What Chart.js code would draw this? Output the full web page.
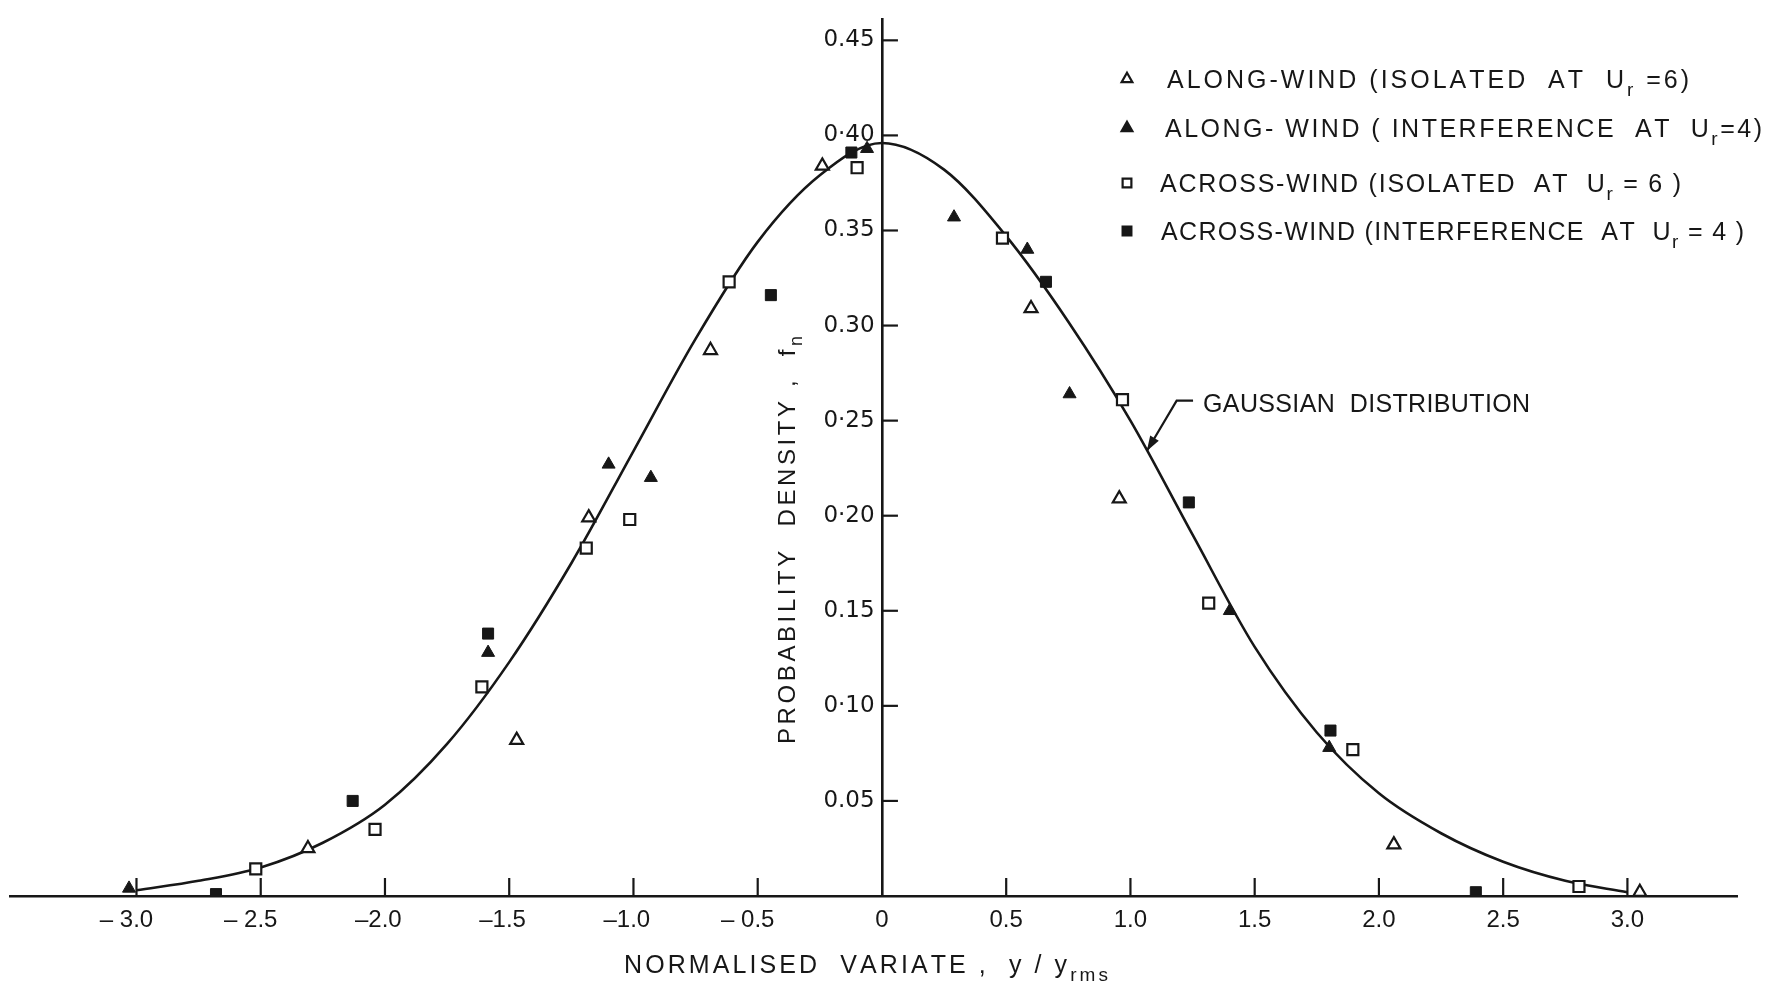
<!DOCTYPE html>
<html>
<head>
<meta charset="utf-8">
<script src="https://cdn.jsdelivr.net/npm/chart.js@4.4.1/dist/chart.umd.min.js"></script>
<style>
html,body{margin:0;padding:0;background:#fff;}
#wrap{width:1785px;height:986px;position:relative;}
canvas{display:block;}
</style>
</head>
<body>
<div id="wrap"><canvas id="c" width="1785" height="986"></canvas></div>
<script>
// ---------------- DATA ----------------
const xTickValues = [-3, -2.5, -2, -1.5, -1, -0.5, 0, 0.5, 1, 1.5, 2, 2.5, 3];
const xTickLabels = ['– 3.0', '– 2.5', '–2.0', '–1.5', '–1.0', '– 0.5', '0', '0.5', '1.0', '1.5', '2.0', '2.5', '3.0'];
const yTickValues = [0.05, 0.10, 0.15, 0.20, 0.25, 0.30, 0.35, 0.40, 0.45];
const yTickLabels = ['0.05', '0·10', '0.15', '0·20', '0·25', '0.30', '0.35', '0·40', '0.45'];

const seriesNames = [
  'ALONG-WIND (ISOLATED AT Ur =6)',
  'ALONG-WIND (INTERFERENCE AT Ur =4)',
  'ACROSS-WIND (ISOLATED AT Ur = 6)',
  'ACROSS-WIND (INTERFERENCE AT Ur = 4)',
  'GAUSSIAN DISTRIBUTION'
];

// open triangles
const alongIsoX = [-2.31, -1.47, -1.18, -0.69, -0.24, 0.60, 0.955, 2.06, 3.05];
const alongIsoY = [0.025, 0.082, 0.199, 0.287, 0.384, 0.309, 0.209, 0.027, 0.002];
// filled triangles
const alongIntX = [-3.03, -1.585, -1.10, -0.93, -0.06, 0.29, 0.585, 0.755, 1.40, 1.80];
const alongIntY = [0.004, 0.128, 0.227, 0.220, 0.393, 0.357, 0.340, 0.264, 0.150, 0.078];
// open squares
const acrossIsoX = [-2.52, -2.04, -1.61, -1.19, -1.015, -0.615, -0.10, 0.485, 0.968, 1.315, 1.895, 2.805];
const acrossIsoY = [0.0143, 0.035, 0.110, 0.183, 0.198, 0.323, 0.383, 0.346, 0.261, 0.154, 0.077, 0.005];
// filled squares
const acrossIntX = [-2.68, -2.13, -1.585, -0.447, -0.123, 0.66, 1.235, 1.805, 2.39];
const acrossIntY = [0.001, 0.050, 0.138, 0.316, 0.391, 0.323, 0.207, 0.087, 0.002];
// Gaussian curve as drawn
const gaussX = [-3.0, -2.75, -2.5, -2.25, -2.0, -1.75, -1.5, -1.25, -1.0, -0.75, -0.5, -0.25, 0, 0.25, 0.5, 0.75, 1.0, 1.25, 1.5, 1.75, 2.0, 2.25, 2.5, 2.75, 3.0];
const gaussY = [0.003, 0.008, 0.015, 0.028, 0.048, 0.080, 0.123, 0.175, 0.234, 0.293, 0.344, 0.379, 0.396, 0.382, 0.347, 0.302, 0.250, 0.190, 0.131, 0.086, 0.054, 0.033, 0.018, 0.008, 0.002];

// annotation anchor (data space) for the "GAUSSIAN DISTRIBUTION" leader
const noteTip = {x: 1.066, y: 0.234};
const noteElbow = {x: 1.186, y: 0.2605};
const noteEnd = {x: 1.252, y: 0.2605};

// ---------------- STYLE ----------------
const FONT = "'Liberation Sans', Arial, sans-serif";
const YFONT = "'DejaVu Sans', sans-serif";
const INK = '#171717';
const pts = (xs, ys) => xs.map((x, i) => ({x: x, y: ys[i]}));

function drawSpaced(ctx, parts, x, yMid, target, size, align) {
  const fMain = size + 'px ' + FONT;
  const fSub = Math.round(size * 0.74) + 'px ' + FONT;
  const chars = [];
  parts.forEach(p => { for (const ch of p[0]) chars.push({ch: ch, sub: p[1]}); });
  let natural = 0;
  chars.forEach(c => { ctx.font = c.sub ? fSub : fMain; c.w = ctx.measureText(c.ch).width; natural += c.w; });
  const ls = chars.length > 1 ? (target - natural) / (chars.length - 1) : 0;
  let cx = align === 'center' ? x - target / 2 : x;
  const base = yMid + size * 0.36;
  ctx.textAlign = 'left';
  ctx.textBaseline = 'alphabetic';
  chars.forEach(c => {
    ctx.font = c.sub ? fSub : fMain;
    ctx.fillText(c.ch, cx, c.sub ? base + size * 0.3 : base);
    cx += c.w + ls;
  });
}

function marker(ctx, style, filled, r, x, y) {
  ctx.save();
  ctx.fillStyle = filled ? INK : '#fff';
  ctx.strokeStyle = INK;
  ctx.lineWidth = 2.2;
  if (Chart.helpers && Chart.helpers.drawPoint) {
    Chart.helpers.drawPoint(ctx, {pointStyle: style, radius: r, rotation: 0, borderWidth: 2.2}, x, y);
  }
  ctx.restore();
}

const paperPlugin = {
  id: 'paper',
  beforeDraw(chart) {
    const ctx = chart.ctx;
    ctx.save(); ctx.fillStyle = '#fff'; ctx.fillRect(0, 0, chart.width, chart.height); ctx.restore();
  }
};

const decorPlugin = {
  id: 'decor',
  beforeDatasetsDraw(chart) {
    const ctx = chart.ctx, xs = chart.scales.x, ys = chart.scales.y;
    const x0 = xs.getPixelForValue(0), y0 = ys.getPixelForValue(0);
    ctx.save();
    ctx.strokeStyle = INK; ctx.lineWidth = 2.2;
    xs.ticks.forEach(t => {
      if (t.value === 0) return;
      const px = xs.getPixelForValue(t.value);
      ctx.beginPath(); ctx.moveTo(px, y0); ctx.lineTo(px, y0 - 18); ctx.stroke();
    });
    ys.ticks.forEach(t => {
      const py = ys.getPixelForValue(t.value);
      ctx.beginPath(); ctx.moveTo(x0, py); ctx.lineTo(x0 + 16, py); ctx.stroke();
    });
    ctx.restore();
  },
  afterDraw(chart) {
    const ctx = chart.ctx, xs = chart.scales.x, ys = chart.scales.y;
    ctx.save();
    ctx.fillStyle = INK; ctx.strokeStyle = INK;

    // axis titles
    drawSpaced(ctx, [['NORMALISED  VARIATE ,  y / y', false], ['rms', true]], 624, 964, 484, 25, 'left');
    ctx.save();
    ctx.translate(786, 540);
    ctx.rotate(-Math.PI / 2);
    drawSpaced(ctx, [['PROBABILITY  DENSITY ,  f', false], ['n', true]], 0, 0, 408, 24, 'center');
    ctx.restore();

    // legend
    const ds = chart.data.datasets;
    const rows = [
      {i: 0, y: 79, x: 1167, w: 522, parts: [['ALONG-WIND (ISOLATED  AT  U', false], ['r', true], [' =6)', false]]},
      {i: 1, y: 128, x: 1165, w: 597, parts: [['ALONG- WIND ( INTERFERENCE  AT  U', false], ['r', true], ['=4)', false]]},
      {i: 2, y: 183, x: 1160, w: 521, parts: [['ACROSS-WIND (ISOLATED  AT  U', false], ['r', true], [' = 6 )', false]]},
      {i: 3, y: 231, x: 1161, w: 583, parts: [['ACROSS-WIND (INTERFERENCE  AT  U', false], ['r', true], [' = 4 )', false]]}
    ];
    rows.forEach(r => {
      const d = ds[r.i];
      marker(ctx, d.pointStyle, d.pointBackgroundColor !== '#fff', 6.2, 1127, r.y);
      ctx.fillStyle = INK;
      drawSpaced(ctx, r.parts, r.x, r.y, r.w, 25, 'left');
    });

    // Gaussian annotation with leader arrow
    const tx = xs.getPixelForValue(noteTip.x), ty = ys.getPixelForValue(noteTip.y);
    const ex = xs.getPixelForValue(noteElbow.x), ey = ys.getPixelForValue(noteElbow.y);
    const nx = xs.getPixelForValue(noteEnd.x), ny = ys.getPixelForValue(noteEnd.y);
    ctx.lineWidth = 2.2;
    ctx.beginPath(); ctx.moveTo(nx, ny); ctx.lineTo(ex, ey); ctx.lineTo(tx, ty); ctx.stroke();
    const ang = Math.atan2(ty - ey, tx - ex);
    const L = 15, W = 5;
    ctx.beginPath();
    ctx.moveTo(tx, ty);
    ctx.lineTo(tx - L * Math.cos(ang) + W * Math.sin(ang), ty - L * Math.sin(ang) - W * Math.cos(ang));
    ctx.lineTo(tx - L * Math.cos(ang) - W * Math.sin(ang), ty - L * Math.sin(ang) + W * Math.cos(ang));
    ctx.closePath(); ctx.fill();
    drawSpaced(ctx, [['GAUSSIAN  DISTRIBUTION', false]], nx + 10, ny + 2, 327, 25, 'left');
    ctx.restore();
  }
};

const openStyle = {pointBackgroundColor: '#fff', pointBorderColor: INK, pointBorderWidth: 2.2};
const fillStyle = {pointBackgroundColor: INK, pointBorderColor: INK, pointBorderWidth: 1};

new Chart(document.getElementById('c'), {
  type: 'scatter',
  data: {
    datasets: [
      Object.assign({label: seriesNames[0], data: pts(alongIsoX, alongIsoY), pointStyle: 'triangle', pointRadius: 7.5, showLine: false}, openStyle),
      Object.assign({label: seriesNames[1], data: pts(alongIntX, alongIntY), pointStyle: 'triangle', pointRadius: 7.5, showLine: false}, fillStyle),
      Object.assign({label: seriesNames[2], data: pts(acrossIsoX, acrossIsoY), pointStyle: 'rect', pointRadius: 7.8, showLine: false}, openStyle),
      Object.assign({label: seriesNames[3], data: pts(acrossIntX, acrossIntY), pointStyle: 'rect', pointRadius: 7.8, showLine: false}, fillStyle),
      {label: seriesNames[4], data: pts(gaussX, gaussY), showLine: true, borderColor: INK, borderWidth: 2.6,
       pointRadius: 0, pointHoverRadius: 0, cubicInterpolationMode: 'monotone', fill: false}
    ]
  },
  options: {
    responsive: false,
    animation: false,
    devicePixelRatio: 1,
    layout: {padding: {left: 10, right: 48, top: 9, bottom: 0}},
    plugins: {legend: {display: false}, tooltip: {enabled: false}, title: {display: false}},
    scales: {
      x: {
        type: 'linear', position: 'bottom', min: -3.509, max: 3.441,
        afterBuildTicks: s => { s.ticks = xTickValues.map(v => ({value: v})); },
        afterFit: s => { s.height = 90; },
        ticks: {
          autoSkip: false, maxRotation: 0, minRotation: 0, padding: 10,
          color: INK, font: {family: FONT, size: 24},
          callback: v => {
            const i = xTickValues.findIndex(t => Math.abs(t - v) < 1e-9);
            const lab = i >= 0 ? xTickLabels[i] : '';
            if (lab.charAt(0) === '–') return lab + (lab.charAt(1) === ' ' ? '   ' : '  ');
            return lab;
          }
        },
        grid: {display: false, drawTicks: false},
        border: {display: true, color: INK, width: 2.6}
      },
      y: {
        type: 'linear', position: {x: 0}, min: 0, max: 0.4608,
        afterBuildTicks: s => { s.ticks = yTickValues.map(v => ({value: v})); },
        afterFit: s => { s.width = 0; },
        ticks: {
          autoSkip: false, padding: 6, color: INK, font: {family: YFONT, size: 23},
          callback: v => {
            const i = yTickValues.findIndex(t => Math.abs(t - v) < 1e-9);
            return i >= 0 ? yTickLabels[i] + ' ' : '';
          }
        },
        grid: {display: false, drawTicks: false},
        border: {display: true, color: INK, width: 2.6}
      }
    }
  },
  plugins: [paperPlugin, decorPlugin]
});
</script>
</body>
</html>
